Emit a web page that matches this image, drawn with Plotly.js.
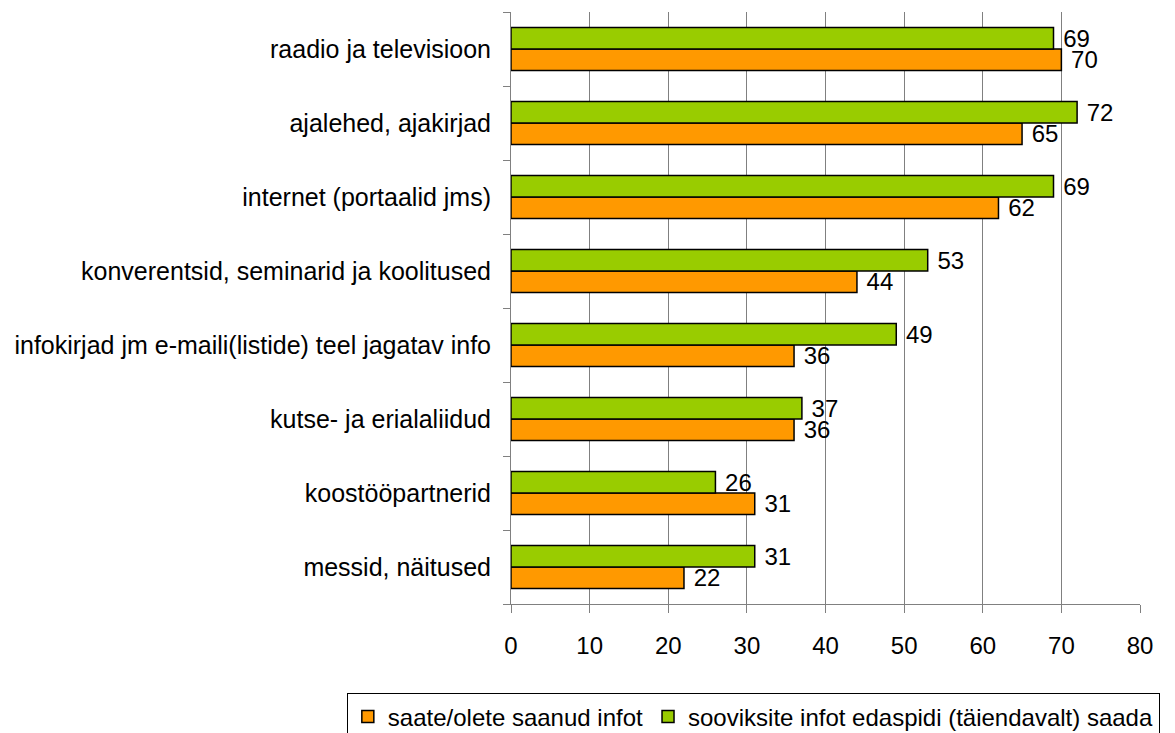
<!DOCTYPE html>
<html>
<head>
<meta charset="utf-8">
<script src="https://cdn.plot.ly/plotly-3.0.1.min.js"></script>
<style>html,body{margin:0;padding:0;background:#fff}#chart{width:1175px;height:733px}</style>
</head>
<body>
<div id="chart"></div>
<script>
const categories = [
  "raadio ja televisioon",
  "ajalehed, ajakirjad",
  "internet (portaalid jms)",
  "konverentsid, seminarid ja koolitused",
  "infokirjad jm e-maili(listide) teel jagatav info",
  "kutse- ja erialaliidud",
  "koostööpartnerid",
  "messid, näitused"
];
const received = [70, 65, 62, 44, 36, 36, 31, 22];
const wanted = [69, 72, 69, 53, 49, 37, 26, 31];
const seriesNames = ["saate/olete saanud infot", "sooviksite infot edaspidi (täiendavalt) saada"];
const xTicks = [0, 10, 20, 30, 40, 50, 60, 70, 80];

const fam = "Liberation Sans, Arial, sans-serif";
const font = {family: fam, size: 24, color: "#000"};

const traces = [
  {
    type: "bar", orientation: "h", name: seriesNames[0],
    y: categories, x: received,
    text: received.map(v => " " + v), textposition: "outside", constraintext: "none",
    textfont: font, cliponaxis: false,
    marker: {color: "#FF9900", line: {color: "#000", width: 1.5}}
  },
  {
    type: "bar", orientation: "h", name: seriesNames[1],
    y: categories, x: wanted,
    text: wanted.map(v => " " + v), textposition: "outside", constraintext: "none",
    textfont: font, cliponaxis: false,
    marker: {color: "#99CC00", line: {color: "#000", width: 1.5}}
  }
];

const layout = {
  width: 1175, height: 733,
  margin: {l: 511, r: 35, t: 12, b: 129, autoexpand: false},
  paper_bgcolor: "#fff", plot_bgcolor: "#fff",
  font: font,
  barmode: "group",
  bargap: 0.42,
  bargroupgap: 0,
  showlegend: true,
  legend: {
    orientation: "h", x: -0.261, xanchor: "left", y: -0.151, yanchor: "top",
    bordercolor: "#000", borderwidth: 1, font: {family: fam, size: 24, color: "#000"},
    traceorder: "normal", itemwidth: 30, tracegroupgap: 0
  },
  xaxis: {
    range: [0, 80], tickvals: xTicks, ticktext: xTicks.map(String),
    showgrid: true, gridcolor: "#808080", gridwidth: 1,
    showline: true, linecolor: "#808080", linewidth: 1,
    ticks: "outside", ticklen: 8, tickcolor: "#808080",
    ticklabelstandoff: 12, zeroline: false,
    tickfont: font, fixedrange: true, automargin: false
  },
  yaxis: {
    type: "category", categoryorder: "array", categoryarray: categories.slice().reverse(),
    showline: true, linecolor: "#808080", linewidth: 1,
    ticks: "outside", ticklen: 7, tickcolor: "#808080", tickson: "boundaries",
    ticklabelstandoff: 14, showgrid: false, zeroline: false,
    tickfont: {family: fam, size: 25, color: "#000"}, fixedrange: true, automargin: false
  }
};

Plotly.newPlot("chart", traces, layout, {displayModeBar: false, staticPlot: true});
</script>
</body>
</html>
